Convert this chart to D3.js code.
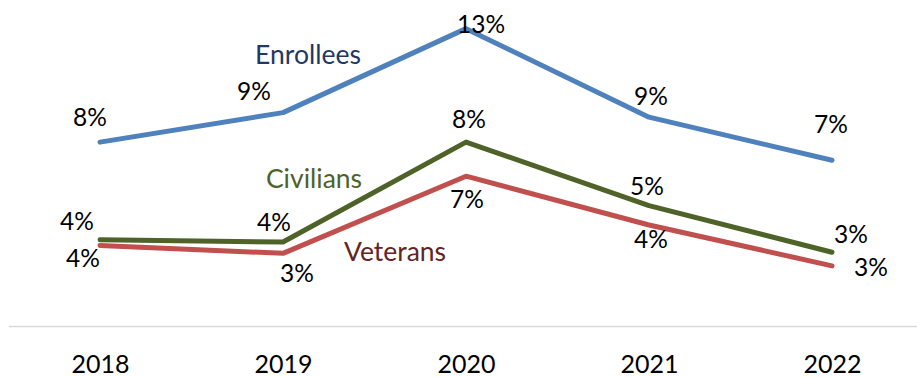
<!DOCTYPE html>
<html>
<head>
<meta charset="utf-8">
<script src="https://cdn.jsdelivr.net/npm/d3@7"></script>
<style>
  html, body { margin: 0; padding: 0; background: #fff; }
  svg { display: block; font-family: Lato, "Open Sans", sans-serif; }
</style>
</head>
<body>
<svg id="chart" width="917" height="377"></svg>
<script>
// Years on the horizontal axis
const years = ["2018", "2019", "2020", "2021", "2022"];

// Rates in percent for each group
const enrollees = [8.1, 9.4, 13.1, 9.2, 7.3];
const civilians = [3.8, 3.7, 8.1, 5.3, 3.25];
const veterans  = [3.55, 3.2, 6.6, 4.45, 2.65];

const seriesNames = ["Enrollees", "Civilians", "Veterans"];

// Drawing styles per series
const styles = {
  Enrollees: { line: "#4F81BD", name: "#1F3864" },
  Civilians: { line: "#4F6228", name: "#4F6228" },
  Veterans:  { line: "#C0504D", name: "#632523" }
};

// Value-label offsets from each point: [dx, dy] to the label's centre/baseline
const labelOffsets = {
  Enrollees: [[-10, -16], [-29, -13], [15, 4], [2, -12], [-1, -27]],
  Civilians: [[-23, -10], [-9, -11], [3, -14], [-2, -11], [19, -9]],
  Veterans:  [[-17, 22], [14, 29], [1, 32], [2, 23], [39, 10]]
};

// Series-name positions, anchored to a year and value on the scales
const nameAnchors = {
  Enrollees: { year: "2019", value: 11.55, dx: 25 },
  Civilians: { year: "2019", value: 6.08, dx: 31 },
  Veterans:  { year: "2019", value: 2.88, dx: 112 }
};

const svg = d3.select("#chart");

const x = d3.scalePoint()
  .domain(years)
  .range([8.5, 923.5])
  .padding(0.5);

const y = d3.scaleLinear()
  .domain([0, 14])
  .range([326, 8.2]);

// Category axis along the zero line
const axis = svg.append("g")
  .attr("transform", `translate(0,${y(0)})`)
  .call(d3.axisBottom(x).tickSize(0).tickPadding(29));
axis.select(".domain")
  .attr("stroke", "#D9D9D9")
  .attr("stroke-width", 1.5);
axis.selectAll("text")
  .attr("font-family", "Lato, 'Open Sans', sans-serif")
  .attr("font-size", 25)
  .attr("fill", "#000");

const data = {
  Enrollees: enrollees,
  Civilians: civilians,
  Veterans: veterans
};

const line = d3.line()
  .x((d, i) => x(years[i]))
  .y(d => y(d));

// Draw back-to-front so Enrollees sits on top
["Veterans", "Civilians", "Enrollees"].forEach(name => {
  svg.append("path")
    .datum(data[name])
    .attr("fill", "none")
    .attr("stroke", styles[name].line)
    .attr("stroke-width", 5)
    .attr("stroke-linecap", "round")
    .attr("stroke-linejoin", "round")
    .attr("d", line);
});

// Value labels
seriesNames.forEach(name => {
  svg.append("g")
    .selectAll("text")
    .data(data[name])
    .join("text")
    .attr("x", (d, i) => x(years[i]) + labelOffsets[name][i][0])
    .attr("y", (d, i) => y(d) + labelOffsets[name][i][1])
    .attr("text-anchor", "middle")
    .attr("font-size", 24.5)
    .attr("fill", "#000")
    .text(d => Math.round(d) + "%");
});

// Series names
seriesNames.forEach(name => {
  const a = nameAnchors[name];
  svg.append("text")
    .attr("x", x(a.year) + a.dx)
    .attr("y", y(a.value))
    .attr("text-anchor", "middle")
    .attr("font-size", 26.5)
    .attr("fill", styles[name].name)
    .text(name);
});
</script>
</body>
</html>
